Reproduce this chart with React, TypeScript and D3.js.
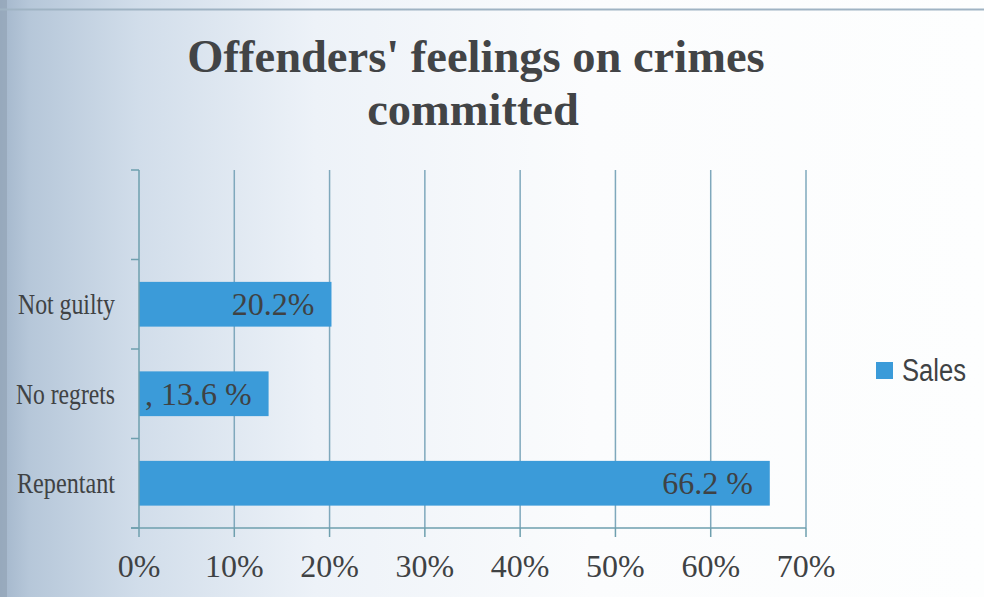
import React from "react";
import * as d3 from "d3";

const categories = ["", "Not guilty", "No regrets", "Repentant"];
const values: (number | null)[] = [null, 0.202, 0.136, 0.662];
const barLabels = ["", "20.2%", ", 13.6 %", "66.2 %"];
const xTicks = [0, 0.1, 0.2, 0.3, 0.4, 0.5, 0.6, 0.7];
const titleLines = ["Offenders' feelings on crimes", "committed"];
const seriesName = "Sales";

const W = 984;
const H = 597;
const M = { left: 139, right: 806, top: 170, bottom: 528 };
const BAR = "#3b9bd9";
const GRID = "#7fa8bc";
const AXIS = "#6e9fae";
const TEXT = "#3f4244";

export default function App() {
  const x = d3.scaleLinear().domain([0, 0.7]).range([M.left, M.right]);
  const keys = categories.map((c, i) => i + ":" + c);
  const y = d3
    .scaleBand<string>()
    .domain(keys)
    .range([M.top, M.bottom])
    .paddingInner(0.5)
    .paddingOuter(0.25);
  const step = y.step();
  const bounds = d3.range(categories.length + 1).map((i) => M.top + i * step);
  const pct = d3.format(".0%");
  const catWidths = [0, 97, 99, 98];

  return (
    <svg
      width={W}
      height={H}
      style={{ position: "absolute", left: 0, top: 0 }}
      fontFamily="'Liberation Serif', 'Times New Roman', serif"
    >
      <defs>
        <linearGradient id="bg" x1="0" x2="1" y1="0" y2="0">
          <stop offset="0" stopColor="#a3b6cb" />
          <stop offset="0.03" stopColor="#b6c7d9" />
          <stop offset="0.14" stopColor="#d1ddea" />
          <stop offset="0.32" stopColor="#edf2f8" />
          <stop offset="0.6" stopColor="#fbfcfd" />
          <stop offset="1" stopColor="#fdfefe" />
        </linearGradient>
      </defs>
      <rect x={0} y={0} width={W} height={H} fill="url(#bg)" />
      <rect x={0} y={0} width={7} height={H} fill="#8fa0b2" opacity={0.6} />
      <line x1={0} x2={W} y1={9.5} y2={9.5} stroke="#9fb3c3" strokeWidth={2} />

      {/* title */}
      <g fill="#424446" fontWeight="bold" fontSize={46.5} textAnchor="middle">
        <text x={476} y={72}>
          {titleLines[0]}
        </text>
        <text x={473} y={125}>
          {titleLines[1]}
        </text>
      </g>

      {/* gridlines */}
      {xTicks.slice(1).map((t) => (
        <line
          key={"g" + t}
          x1={x(t)}
          x2={x(t)}
          y1={M.top}
          y2={M.bottom}
          stroke={GRID}
          strokeWidth={1.5}
        />
      ))}

      {/* bars */}
      {values.map((v, i) =>
        v == null ? null : (
          <rect
            key={"b" + i}
            x={x(0)}
            y={y(keys[i])}
            width={x(v) - x(0)}
            height={y.bandwidth()}
            fill={BAR}
          />
        )
      )}

      {/* bar labels */}
      <g fill={TEXT} fontSize={32} textAnchor="end">
        {values.map((v, i) =>
          v == null ? null : (
            <text
              key={"l" + i}
              x={x(v) - 17}
              y={(y(keys[i]) as number) + y.bandwidth() / 2 + 11}
            >
              {barLabels[i]}
            </text>
          )
        )}
      </g>

      {/* axes */}
      <line x1={M.left} x2={M.left} y1={M.top} y2={M.bottom} stroke={AXIS} strokeWidth={1.5} />
      <line x1={M.left - 8} x2={M.right} y1={M.bottom} y2={M.bottom} stroke={AXIS} strokeWidth={1.5} />
      {bounds.map((b, i) => (
        <line key={"yt" + i} x1={M.left - 8} x2={M.left} y1={b} y2={b} stroke={AXIS} strokeWidth={1.5} />
      ))}
      {xTicks.map((t) => (
        <line key={"xt" + t} x1={x(t)} x2={x(t)} y1={M.bottom} y2={M.bottom + 9} stroke={AXIS} strokeWidth={1.5} />
      ))}

      {/* x tick labels */}
      <g fill={TEXT} fontSize={32} textAnchor="middle">
        {xTicks.map((t) => (
          <text key={"xl" + t} x={x(t)} y={577}>
            {pct(t)}
          </text>
        ))}
      </g>

      {/* category labels */}
      <g fill={TEXT} fontSize={30} textAnchor="end">
        {categories.map((c, i) =>
          c ? (
            <text
              key={"c" + i}
              x={115}
              y={(y(keys[i]) as number) + y.bandwidth() / 2 + 10}
              textLength={catWidths[i]}
              lengthAdjust="spacingAndGlyphs"
            >
              {c}
            </text>
          ) : null
        )}
      </g>

      {/* legend */}
      <rect x={876} y={362} width={17} height={17} fill={BAR} />
      <text
        x={902}
        y={381}
        fill={TEXT}
        fontSize={31}
        fontFamily="'Liberation Sans', Arial, sans-serif"
        textLength={64}
        lengthAdjust="spacingAndGlyphs"
      >
        {seriesName}
      </text>
    </svg>
  );
}
